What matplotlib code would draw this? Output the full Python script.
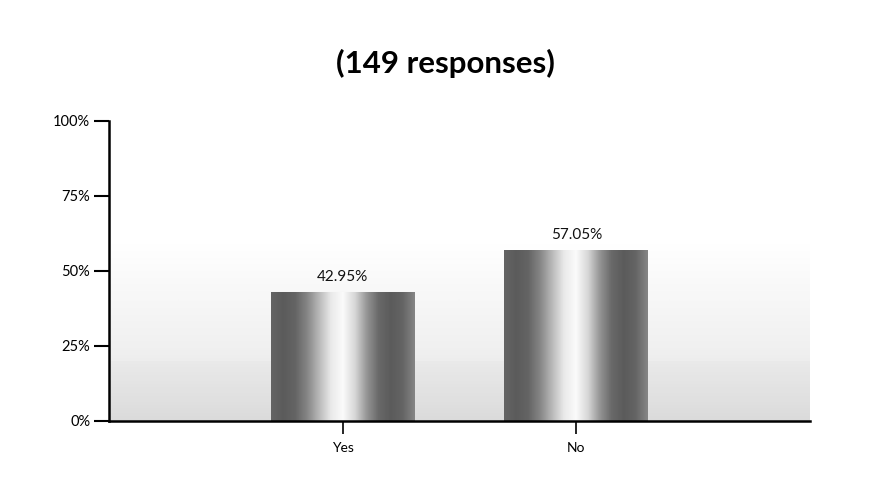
import numpy as np
import matplotlib
matplotlib.use("Agg")
import matplotlib.pyplot as plt
from matplotlib.colors import LinearSegmentedColormap

categories = ["Yes", "No"]
percentages = [42.95, 57.05]
value_labels = ["42.95%", "57.05%"]
y_ticks = [0, 25, 50, 75, 100]
y_tick_labels = ["0%", "25%", "50%", "75%", "100%"]
title = "(149 responses)"

plt.rcParams["font.family"] = ["Lato", "DejaVu Sans"]

fig = plt.figure(figsize=(8.77, 5.01), dpi=100)
ax = fig.add_axes([0.1243, 0.1597, 0.7993, 0.5988])
ax.set_xlim(-1, 2)
ax.set_ylim(0, 100)

# background halftone-like gradient
ys = np.linspace(0, 100, 300)
shade = np.where(ys < 20, 0.24 - 0.004 * ys, np.where(ys < 60, 0.14 - 0.0035 * (ys - 20), 0.0))
shade = np.clip(shade, 0, 1)
bg = np.tile(shade[:, None], (1, 10))
ax.imshow(bg, extent=(-1, 2, 0, 100), origin="lower", cmap="Greys", vmin=0, vmax=1,
          aspect="auto", zorder=0, interpolation="bilinear")

x = np.arange(len(categories))
width = 0.615
bars = ax.bar(x, percentages, width=width, color="none", edgecolor="none", zorder=2)

# cylinder-like horizontal gradient for bars
prof = np.array([0.70, 0.74, 0.70, 0.55, 0.32, 0.10, 0.02, 0.18, 0.48, 0.68, 0.74, 0.70, 0.55])
cmap = LinearSegmentedColormap.from_list("g", ["white", "#222222"])
for b in bars:
    x0, w, h = b.get_x(), b.get_width(), b.get_height()
    xs = np.linspace(0, 1, 200)
    vals = np.interp(xs, np.linspace(0, 1, len(prof)), prof)
    img = np.tile(vals[None, :], (10, 1))
    im = ax.imshow(img, extent=(x0, x0 + w, 0, h), origin="lower", cmap=cmap, vmin=0, vmax=1,
                   aspect="auto", zorder=2, interpolation="bilinear")
    im.set_clip_path(b)

for xi, p, lab in zip(x, percentages, value_labels):
    ax.annotate(lab, (xi, p), xytext=(0, 6), textcoords="offset points",
                ha="center", va="bottom", fontsize=11, color="#111111")

ax.set_xticks(x)
ax.set_xticklabels(categories, fontsize=10)
ax.set_yticks(y_ticks)
ax.set_yticklabels(y_tick_labels, fontsize=10.5)
ax.tick_params(axis="y", length=11, width=1.5, pad=2.5)
ax.tick_params(axis="x", length=9, width=1.2, pad=6)

for s in ["top", "right"]:
    ax.spines[s].set_visible(False)
ax.spines["left"].set_linewidth(1.8)
ax.spines["bottom"].set_linewidth(1.8)

fig.text(0.508, 0.874, title, ha="center", va="center", fontsize=22.5, fontweight="bold")

fig.savefig("out.png", dpi=100)
